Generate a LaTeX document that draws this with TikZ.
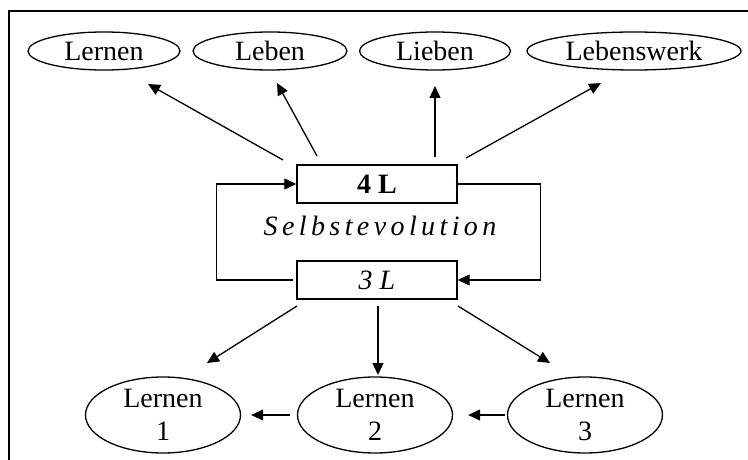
\documentclass[tikz,border=0pt]{standalone}
\usepackage{fontspec}
\setmainfont{Liberation Serif}
\usetikzlibrary{shapes.geometric,arrows.meta,calc}
\newcommand\lsp{\kern4.4pt}
\begin{document}
\begin{tikzpicture}[x=1pt,y=-1pt,
  txt/.style={font=\fontsize{28}{33}\selectfont},
  oval/.style={txt,draw,ellipse,inner sep=0pt,line width=1.3pt,minimum height=38pt},
  bigoval/.style={txt,draw,ellipse,inner sep=0pt,line width=1.3pt,align=center,minimum width=155pt,minimum height=76pt},
  lbox/.style={txt,draw,rectangle,inner sep=0pt,line width=1.4pt,minimum width=160pt,minimum height=38pt},
  arr/.style={line width=1.3pt,-{Triangle[length=12pt,width=11pt]}},
  loopline/.style={line width=1.3pt}]
\useasboundingbox (0,0) rectangle (748,460);
% open frame: top and left edges only
\draw[line width=2pt] (9,460) -- (9,11) -- (748,11);

% the four L
\node[oval,minimum width=152pt] (lernen) at (104,51) {Lernen};
\node[oval,minimum width=154pt] (leben) at (270,51) {Leben};
\node[oval,minimum width=151pt] (lieben) at (435,51) {Lieben};
\node[oval,minimum width=214pt] (werk) at (634,51) {Lebenswerk};

% central boxes
\node[lbox] (vier) at (377,184) {\textbf{4 L}};
\node[lbox] (drei) at (377,280) {\textit{3 L}};
\node[txt] (evo) at (380,226) {\textit{S\lsp e\lsp l\lsp b\lsp s\lsp t\lsp e\lsp v\lsp o\lsp l\lsp u\lsp t\lsp i\lsp o\lsp n}};

% the three learning stages
\node[bigoval] (l1) at (163,415) {Lernen\\1};
\node[bigoval] (l2) at (375,415) {Lernen\\2};
\node[bigoval] (l3) at (585,415) {Lernen\\3};

% arrow ends
\coordinate (s1) at (283,160); \coordinate (t1) at (148,84);
\coordinate (s2) at (317,156); \coordinate (t2) at (277,83);
\coordinate (s3) at (435,157); \coordinate (t3) at (435,86);
\coordinate (s4) at (466,158); \coordinate (t4) at (601,83);
\coordinate (d1s) at (297,306); \coordinate (d1t) at (207,363);
\coordinate (d2s) at (378,306); \coordinate (d2t) at (378,375);
\coordinate (d3s) at (458,306); \coordinate (d3t) at (550,363);

% from 4 L up to the four L
\draw[arr] (s1) -- (t1);
\draw[arr] (s2) -- (t2);
\draw[arr] (s3) -- (t3);
\draw[arr] (s4) -- (t4);

% evolution loop between the boxes
\draw[loopline,-{Triangle[length=12pt,width=11pt]}] ($(drei.west)+(-3,0)$) -- ++(-77,0) |- (vier.west);
\draw[loopline,-{Triangle[length=12pt,width=11pt]}] ($(vier.east)+(-2,0)$) -- ++(85,0) |- (drei.east);

% from 3 L down to the stages
\draw[arr] (d1s) -- (d1t);
\draw[arr] (d2s) -- (d2t);
\draw[arr] (d3s) -- (d3t);

% stage to stage
\draw[arr] ($(l2.west)+(-7,0)$) -- ($(l1.east)+(10,0)$);
\draw[arr] ($(l3.west)+(-2,0)$) -- ($(l2.east)+(15,0)$);
\end{tikzpicture}
\end{document}
